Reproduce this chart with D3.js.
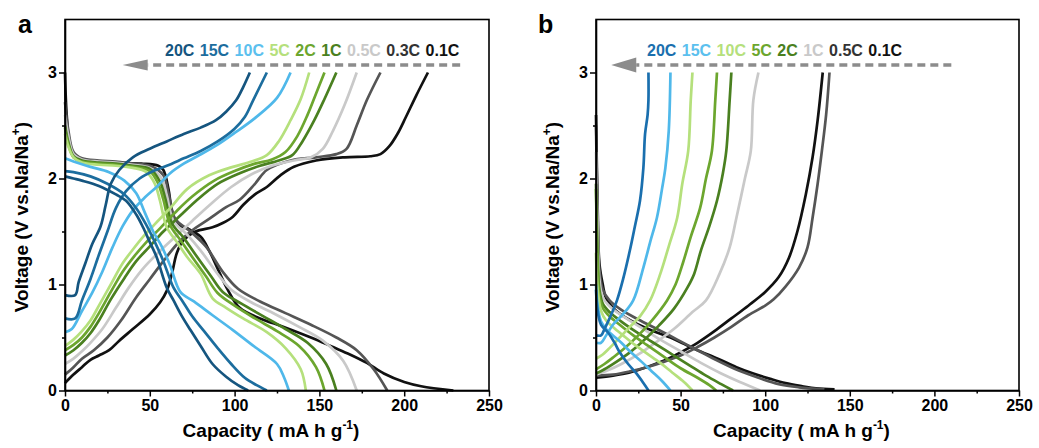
<!DOCTYPE html>
<html><head><meta charset="utf-8">
<script src="https://cdn.jsdelivr.net/npm/d3@7"></script>
<style>
html,body{margin:0;padding:0;background:#fff;}
text{font-family:"Liberation Sans",Arial,sans-serif;font-weight:bold;}
</style></head>
<body><svg id="chart" width="1039" height="448"></svg>
<script>
// ---------- DATA ----------
const xTicks = [0, 50, 100, 150, 200, 250];
const yTicks = [0, 1, 2, 3];

// Panel a : rates (order 20C .. 0.1C)
const ratesA = ["20C", "15C", "10C", "5C", "2C", "1C", "0.5C", "0.3C", "0.1C"];
const dischargeA = [
  [[0,2.02],[5,2.0],[10,1.98],[20,1.93],[30,1.85],[36,1.79],[42,1.66],[46,1.54],[50,1.4],[54,1.26],[60,0.97],[64,0.85],[69,0.7],[74,0.57],[80,0.42],[87,0.25],[95,0.13],[102,0.05],[108,0]],
  [[0,2.07],[5,2.06],[15,2.02],[25,1.95],[35,1.85],[42,1.72],[48,1.56],[53,1.4],[58,1.22],[64,0.97],[69,0.85],[75,0.7],[82,0.56],[90,0.4],[98,0.25],[106,0.12],[113,0.05],[119,0]],
  [[0,2.19],[5,2.16],[15,2.11],[26,2.06],[35,1.98],[42,1.86],[47,1.68],[52,1.5],[57,1.36],[62,1.18],[68,0.93],[76,0.84],[87,0.71],[99,0.57],[112,0.41],[125,0.25],[129,0.13],[132,0]],
  [[0,2.42],[2,2.3],[5,2.2],[10,2.15],[20,2.13],[30,2.12],[40,2.1],[48,2.06],[53,1.95],[56,1.79],[60,1.54],[66,1.4],[72,1.26],[80,1.1],[87,0.87],[95,0.78],[105,0.68],[119,0.55],[130,0.4],[139,0.2],[142,0]],
  [[0,2.48],[2,2.32],[5,2.2],[10,2.16],[20,2.14],[30,2.13],[40,2.11],[50,2.07],[55,1.95],[58,1.8],[62,1.56],[68,1.42],[75,1.26],[83,1.08],[90,0.92],[100,0.8],[112,0.68],[125,0.56],[138,0.42],[148,0.22],[153,0]],
  [[0,2.5],[2,2.34],[5,2.21],[10,2.17],[20,2.15],[30,2.14],[40,2.12],[50,2.09],[56,1.97],[59,1.82],[63,1.58],[70,1.44],[77,1.28],[86,1.08],[93,0.93],[104,0.82],[117,0.7],[130,0.58],[143,0.45],[154,0.25],[160,0]],
  [[0,2.6],[2,2.4],[5,2.23],[10,2.18],[20,2.16],[30,2.15],[40,2.13],[50,2.1],[57,2.0],[60,1.84],[64,1.6],[72,1.47],[80,1.32],[90,1.1],[98,0.95],[110,0.83],[124,0.72],[138,0.6],[152,0.47],[164,0.28],[172,0]],
  [[0,2.72],[2,2.45],[5,2.25],[10,2.19],[20,2.17],[30,2.16],[40,2.14],[50,2.12],[58,2.03],[61,1.86],[65,1.62],[74,1.5],[83,1.36],[93,1.12],[102,0.96],[115,0.84],[130,0.73],[145,0.62],[160,0.5],[172,0.38],[182,0.2],[190,0]],
  [[0,3.0],[1,2.6],[3,2.3],[6,2.2],[15,2.17],[30,2.15],[45,2.14],[55,2.12],[58,2.08],[61,1.9],[63,1.7],[66,1.57],[72,1.53],[80,1.45],[85,1.32],[90,1.15],[96,0.95],[103,0.78],[115,0.68],[129,0.6],[145,0.5],[158,0.41],[168,0.34],[178,0.26],[188,0.16],[200,0.08],[210,0.04],[229,0]]
];
const chargeA = [
  [[0,0.9],[6,0.9],[8,1.02],[12,1.2],[16,1.38],[21,1.55],[24,1.75],[27,1.95],[32,2.08],[40,2.2],[50,2.28],[60,2.35],[70,2.42],[80,2.48],[89,2.55],[95,2.63],[101,2.74],[105,2.86],[109,3.0]],
  [[0,0.68],[6,0.68],[10,0.85],[15,1.05],[20,1.28],[25,1.5],[30,1.72],[36,1.88],[44,2.0],[52,2.07],[60,2.12],[70,2.19],[80,2.26],[90,2.35],[100,2.47],[106,2.58],[111,2.74],[119,3.0]],
  [[0,0.55],[4,0.58],[10,0.75],[16,0.92],[22,1.12],[28,1.35],[34,1.55],[40,1.7],[47,1.82],[54,1.92],[62,2.05],[70,2.14],[78,2.21],[90,2.32],[100,2.43],[112,2.57],[125,2.76],[133,3.0]],
  [[0,0.42],[5,0.48],[10,0.56],[15,0.66],[20,0.8],[27,1.0],[34,1.2],[40,1.33],[46,1.45],[53,1.57],[62,1.72],[72,1.9],[85,2.03],[99,2.11],[110,2.16],[119,2.22],[126,2.35],[133,2.55],[139,2.75],[144,3.0]],
  [[0,0.38],[5,0.43],[10,0.5],[15,0.6],[20,0.73],[27,0.93],[34,1.12],[41,1.27],[48,1.4],[56,1.53],[65,1.68],[75,1.83],[88,1.98],[100,2.07],[112,2.14],[122,2.18],[130,2.25],[137,2.4],[143,2.6],[148,2.8],[153,3.0]],
  [[0,0.33],[5,0.38],[10,0.45],[15,0.54],[20,0.66],[27,0.86],[35,1.06],[42,1.22],[50,1.36],[58,1.5],[68,1.65],[78,1.8],[90,1.95],[103,2.05],[115,2.12],[126,2.17],[134,2.22],[140,2.35],[147,2.55],[153,2.75],[160,3.0]],
  [[0,0.25],[5,0.3],[10,0.37],[15,0.45],[22,0.58],[30,0.78],[38,0.98],[46,1.15],[55,1.3],[65,1.45],[75,1.6],[86,1.76],[98,1.92],[110,2.04],[122,2.12],[135,2.17],[145,2.2],[152,2.28],[158,2.45],[165,2.7],[172,3.0]],
  [[0,0.15],[5,0.22],[10,0.3],[17,0.38],[25,0.5],[33,0.66],[42,0.88],[50,1.05],[58,1.22],[66,1.38],[74,1.5],[85,1.62],[95,1.73],[103,1.8],[112,1.95],[119,2.08],[133,2.17],[148,2.2],[160,2.23],[166,2.28],[172,2.5],[178,2.74],[186,3.0]],
  [[0,0.07],[5,0.15],[10,0.22],[15,0.29],[20,0.33],[26,0.38],[32,0.47],[40,0.58],[50,0.72],[56,0.83],[60,0.94],[63,1.1],[66,1.3],[70,1.42],[77,1.5],[87,1.54],[93,1.58],[99,1.64],[105,1.75],[112,1.85],[119,1.92],[127,2.03],[135,2.11],[148,2.17],[165,2.2],[180,2.21],[186,2.23],[191,2.3],[196,2.42],[201,2.58],[207,2.78],[214,3.0]]
];

// Panel b : rates (order 20C .. 0.1C)
const ratesB = ["20C", "15C", "10C", "5C", "2C", "1C", "0.5C", "0.1C"];
const dischargeB = [
  [[0,0.95],[1,0.75],[3,0.62],[7,0.55],[11,0.45],[14,0.36],[19,0.25],[24,0.16],[28,0.07],[31,0]],
  [[0,1.0],[1,0.8],[3,0.65],[6,0.58],[10,0.52],[15,0.45],[20,0.37],[27,0.27],[33,0.18],[39,0.09],[44,0]],
  [[0,1.3],[1,0.95],[3,0.75],[6,0.66],[10,0.6],[16,0.52],[23,0.43],[30,0.35],[38,0.26],[45,0.17],[52,0.08],[57,0]],
  [[0,1.9],[1,1.2],[2,0.9],[4,0.78],[8,0.7],[14,0.62],[22,0.52],[30,0.43],[40,0.32],[50,0.21],[60,0.12],[67,0.05],[71,0]],
  [[0,1.95],[1,1.25],[2,0.95],[4,0.82],[8,0.74],[15,0.65],[24,0.55],[33,0.46],[44,0.35],[55,0.24],[65,0.14],[74,0.06],[81,0]],
  [[0,2.25],[1,1.5],[2,1.05],[4,0.88],[9,0.78],[17,0.69],[27,0.59],[38,0.48],[50,0.37],[62,0.26],[74,0.16],[85,0.08],[97,0]],
  [[0,2.5],[1,1.6],[2,1.15],[4,0.95],[8,0.85],[15,0.76],[25,0.67],[36,0.58],[48,0.48],[60,0.38],[72,0.28],[84,0.19],[96,0.12],[108,0.06],[120,0.03],[135,0.01]],
  [[0,2.6],[1,1.7],[2,1.2],[4,1.0],[6,0.87],[12,0.75],[24,0.63],[34,0.56],[44,0.5],[52,0.44],[60,0.38],[72,0.3],[83,0.22],[93,0.16],[103,0.11],[112,0.07],[122,0.04],[130,0.02],[141,0.01]]
];
const chargeB = [
  [[0,0.52],[3,0.52],[5,0.58],[8,0.68],[12.4,0.85],[16,1.05],[20,1.32],[23,1.55],[26,1.79],[28,2.1],[29,2.42],[30.5,2.6],[31,2.74],[31,3.0]],
  [[0,0.45],[3,0.45],[6,0.52],[10,0.62],[16,0.72],[22,0.85],[28,1.16],[32,1.4],[36,1.63],[39,1.9],[41,2.1],[43,2.45],[44,3.0]],
  [[0,0.3],[4,0.34],[8,0.4],[14,0.5],[20,0.6],[26,0.7],[32,0.85],[38,1.1],[43,1.36],[48,1.63],[51,1.95],[54.5,2.26],[56,2.74],[57,3.0]],
  [[0,0.2],[5,0.25],[10,0.31],[17,0.4],[25,0.52],[33,0.66],[42,0.85],[47,1.0],[51.5,1.21],[56,1.45],[61.5,1.72],[65,2.0],[68.5,2.26],[70.5,2.74],[71.5,3.0]],
  [[0,0.16],[5,0.2],[12,0.27],[20,0.36],[28,0.47],[37,0.61],[46,0.77],[54,0.97],[58,1.1],[62,1.32],[67,1.55],[71.5,1.79],[75,2.05],[77,2.26],[79,2.74],[80,3.0]],
  [[0,0.15],[7,0.19],[15,0.25],[25,0.34],[35,0.45],[46,0.58],[57,0.74],[65,0.85],[73,1.1],[79,1.35],[83,1.63],[88,2.0],[91.5,2.26],[93,2.74],[96,3.0]],
  [[0,0.14],[10,0.15],[20,0.18],[30,0.22],[40,0.27],[50,0.33],[60,0.41],[70,0.5],[80,0.6],[90,0.71],[100,0.8],[105,0.86],[112,0.98],[120,1.16],[125,1.35],[128,1.63],[131,1.95],[133.5,2.26],[136,2.6],[138,3.0]],
  [[0,0.12],[10,0.14],[20,0.17],[30,0.22],[40,0.28],[50,0.36],[60,0.45],[70,0.56],[80,0.68],[90,0.8],[100,0.93],[108,1.07],[114,1.25],[119,1.5],[124,1.85],[128,2.2],[131,2.55],[134,3.0]]
];

// arrow annotations (capacity from -> to, voltage)
const arrowA = [233, 34, 3.07];
const arrowB = [210, 9, 3.07];

// ---------- STYLE ----------
const colorsA = ["#15557f", "#1c6d9e", "#4fb8ea", "#b5e07c", "#6ca62e", "#4a8020", "#c9c9c9", "#555555", "#111111"];
const legendColorsA = ["#15557f", "#1c6d9e", "#5bc0ee", "#b5e07c", "#6ca62e", "#4a8020", "#c9c9c9", "#333333", "#111111"];
const colorsB = ["#1a6fae", "#4fb8ea", "#b5e07c", "#6ca62e", "#4a8020", "#c9c9c9", "#555555", "#111111"];
const legendColorsB = ["#1a6fae", "#5bc0ee", "#b5e07c", "#6ca62e", "#4a8020", "#c9c9c9", "#333333", "#111111"];

const svg = d3.select("#chart");

function panel(opts) {
  const {x0, x1, label, labelX, rates, dis, chg, colors, legendColors, legendX, arrow} = opts;
  const y0 = 390.5, yTop = 19.5;
  const x = d3.scaleLinear().domain([0, 250]).range([x0, x1]);
  const y = d3.scaleLinear().domain([0, 3.5]).range([y0, yTop]);
  const g = svg.append("g");

  // curves
  const lineC = d3.line().x(d => x(d[0])).y(d => y(d[1])).curve(d3.curveCatmullRom.alpha(0.5));
  const order = d3.range(rates.length).reverse();
  order.forEach(i => {
    g.append("path").attr("d", lineC(dis[i])).attr("fill", "none")
      .attr("stroke", colors[i]).attr("stroke-width", 2.7).attr("stroke-linejoin", "round");
    g.append("path").attr("d", lineC(chg[i])).attr("fill", "none")
      .attr("stroke", colors[i]).attr("stroke-width", 2.7).attr("stroke-linejoin", "round");
  });

  // frame
  g.append("rect").attr("x", x0).attr("y", yTop).attr("width", x1 - x0).attr("height", y0 - yTop)
    .attr("fill", "none").attr("stroke", "#000").attr("stroke-width", 1.6);

  // x axis
  const xa = g.append("g").attr("transform", `translate(0,${y0})`)
    .call(d3.axisBottom(x).tickValues(xTicks).tickSize(6).tickSizeOuter(0).tickPadding(3).tickFormat(d3.format("d")));
  g.append("g").attr("transform", `translate(0,${y0})`)
    .call(d3.axisBottom(x).tickValues(d3.range(25, 250, 50)).tickSize(3).tickSizeOuter(0).tickFormat(""))
    .call(s => s.select(".domain").remove());
  xa.selectAll("text").attr("font-size", 16).attr("fill", "#000").attr("font-weight", "bold")
    .attr("font-family", "Liberation Sans, Arial, sans-serif");

  // y axis
  const ya = g.append("g").attr("transform", `translate(${x0},0)`)
    .call(d3.axisLeft(y).tickValues(yTicks).tickSize(6).tickSizeOuter(0).tickPadding(2).tickFormat(d3.format("d")));
  g.append("g").attr("transform", `translate(${x0},0)`)
    .call(d3.axisLeft(y).tickValues([0.5, 1.5, 2.5]).tickSize(3).tickSizeOuter(0).tickFormat(""))
    .call(s => s.select(".domain").remove());
  ya.selectAll("text").attr("font-size", 16).attr("fill", "#000").attr("font-weight", "bold")
    .attr("font-family", "Liberation Sans, Arial, sans-serif");
  g.selectAll(".domain").attr("stroke-width", 1.6);
  g.selectAll(".tick line").attr("stroke-width", 1.5);

  // axis titles
  const xt = g.append("text").attr("x", (x0 + x1) / 2 - 6).attr("y", 437).attr("text-anchor", "middle")
    .attr("font-size", 19);
  xt.append("tspan").text("Capacity ( mA h g");
  xt.append("tspan").attr("font-size", 12).attr("dy", -8).text("-1");
  xt.append("tspan").attr("dy", 8).text(")");

  const yt = g.append("text").attr("transform", `translate(${x0 - 37},${(y0 + yTop) / 2 + 12}) rotate(-90)`)
    .attr("text-anchor", "middle").attr("font-size", 19);
  yt.append("tspan").text("Voltage (V vs.Na/Na");
  yt.append("tspan").attr("font-size", 12).attr("dy", -8).text("+");
  yt.append("tspan").attr("dy", 8).text(")");

  // panel label
  g.append("text").attr("x", labelX).attr("y", 33).attr("font-size", 25).text(label);

  // legend
  const lt = g.append("text").attr("x", legendX).attr("y", 56).attr("font-size", 16).attr("word-spacing", 1);
  rates.forEach((r, i) => {
    lt.append("tspan").attr("fill", legendColors[i]).text(r + (i < rates.length - 1 ? " " : ""));
  });

  // dashed arrow
  const [from, to, v] = arrow;
  const headLen = 25, headH = opts.headH;
  g.append("line").attr("x1", x(from)).attr("x2", x(to) + headLen).attr("y1", y(v)).attr("y2", y(v))
    .attr("stroke", "#8c8c8c").attr("stroke-width", 3.5).attr("stroke-dasharray", "8,5");
  g.append("path")
    .attr("d", `M${x(to)},${y(v)} L${x(to) + headLen},${y(v) - headH / 2} L${x(to) + headLen},${y(v) + headH / 2} Z`)
    .attr("fill", "#8c8c8c");
}

panel({x0: 65, x1: 489, label: "a", labelX: 18, rates: ratesA, dis: dischargeA, chg: chargeA,
  colors: colorsA, legendColors: legendColorsA, legendX: 165, arrow: arrowA, headH: 11});
panel({x0: 596, x1: 1019, label: "b", labelX: 538, rates: ratesB, dis: dischargeB, chg: chargeB,
  colors: colorsB, legendColors: legendColorsB, legendX: 647, arrow: arrowB, headH: 15});
</script>
</body></html>
